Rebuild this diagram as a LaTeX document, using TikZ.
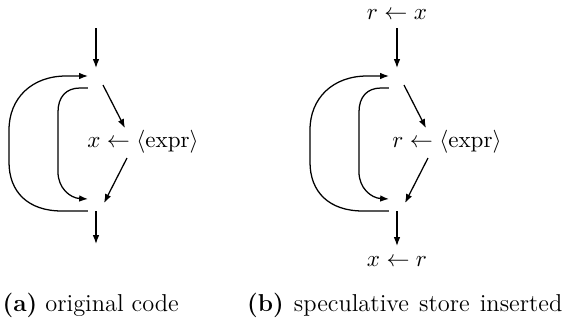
\documentclass[tikz,border=0pt]{standalone}
\usetikzlibrary{arrows.meta}
\begin{document}
\begin{tikzpicture}[x=0.0167cm,y=-0.0167cm,line width=0.6pt,
  arr/.style={-{Latex[length=4.2pt,width=3.1pt]}},
  lab/.style={inner sep=0pt,font=\fontsize{10.6}{13}\selectfont},
  captext/.style={inner sep=0pt,font=\fontsize{11.6}{14}\selectfont}]
\useasboundingbox (0,0) rectangle (570,325);
% ---------- (a) ----------
\coordinate (a-in) at (96,28);
\coordinate (a-j1) at (96,68);
\coordinate (a-ot) at (88,76);
\coordinate (a-ob) at (88,211);
\coordinate (a-it) at (88,88);
\coordinate (a-ib) at (88,199);
\coordinate (a-d1s) at (103,85);
\coordinate (a-d1e) at (125,128);
\coordinate (a-d2s) at (127,158);
\coordinate (a-d2e) at (104,203);
\coordinate (a-j2) at (96,211);
\coordinate (a-out) at (96,244);
\node[lab] (a-stmt) at (143,142) {$x \leftarrow \langle\mathrm{expr}\rangle$};
\draw[arr] (a-in) -- (a-j1);
\draw[arr] (a-ob) -- (62,211) .. controls (28,211) and (9,192) .. (9,162) -- (9,130) .. controls (9,98) and (32,76) .. (66,76) -- (a-ot);
\draw[arr] (a-it) -- (80,88) .. controls (66,88) and (58,97) .. (58,112) -- (58,172) .. controls (58,188) and (70,198) .. (a-ib);
\draw[arr] (a-d1s) -- (a-d1e);
\draw[arr] (a-d2s) -- (a-d2e);
\draw[arr] (a-j2) -- (a-out);
\node[captext,anchor=west] (a-cap) at (2,305) {\textbf{(a)} original code};
% ---------- (b) ----------
\begin{scope}[shift={(301,0)}]
\node[lab] (b-top) at (96,15) {$r \leftarrow x$};
\coordinate (b-in) at (96,28);
\coordinate (b-j1) at (96,68);
\coordinate (b-ot) at (88,76);
\coordinate (b-ob) at (88,211);
\coordinate (b-it) at (88,88);
\coordinate (b-ib) at (88,199);
\coordinate (b-d1s) at (103,85);
\coordinate (b-d1e) at (125,128);
\coordinate (b-d2s) at (127,158);
\coordinate (b-d2e) at (104,203);
\coordinate (b-j2) at (96,211);
\coordinate (b-out) at (96,246);
\node[lab] (b-stmt) at (146,142) {$r \leftarrow \langle\mathrm{expr}\rangle$};
\node[lab] (b-bot) at (96,262) {$x \leftarrow r$};
\draw[arr] (b-in) -- (b-j1);
\draw[arr] (b-ob) -- (62,211) .. controls (28,211) and (9,192) .. (9,162) -- (9,130) .. controls (9,98) and (32,76) .. (66,76) -- (b-ot);
\draw[arr] (b-it) -- (80,88) .. controls (66,88) and (58,97) .. (58,112) -- (58,172) .. controls (58,188) and (70,198) .. (b-ib);
\draw[arr] (b-d1s) -- (b-d1e);
\draw[arr] (b-d2s) -- (b-d2e);
\draw[arr] (b-j2) -- (b-out);
\end{scope}
\node[captext,anchor=east] (b-cap) at (563,305) {\spaceskip=4.8pt plus 1pt\textbf{(b)} speculative store inserted};
\end{tikzpicture}
\end{document}
